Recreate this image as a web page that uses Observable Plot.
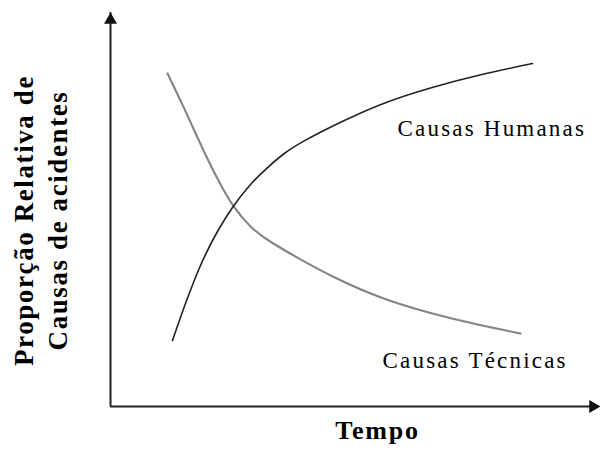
<!DOCTYPE html>
<html>
<head>
<meta charset="utf-8">
<script src="https://cdn.jsdelivr.net/npm/d3@7"></script>
<script src="https://cdn.jsdelivr.net/npm/@observablehq/plot@0.6"></script>
<style>
  html, body { margin: 0; padding: 0; background: #fff; }
  #chart { width: 600px; height: 455px; }
</style>
</head>
<body>
<div id="chart"></div>
<script>
// Series (time and relative proportion, arbitrary 0–100 units)
const tempoHumanas = [12.70, 14.96, 18.44, 21.93, 25.00, 28.69, 32.17, 35.45, 38.93, 46.52, 55.33, 65.57, 75.82, 86.48];
const propHumanas  = [16.75, 24.87, 36.29, 44.67, 50.76, 56.60, 60.66, 64.21, 67.01, 71.83, 76.90, 80.96, 84.26, 87.06];
const tempoTecnicas = [11.68, 15.16, 18.44, 21.72, 25.00, 28.69, 32.17, 38.93, 45.70, 55.33, 65.57, 75.82, 84.02];
const propTecnicas  = [84.52, 75.63, 66.50, 58.12, 50.76, 45.43, 42.13, 37.31, 32.74, 27.41, 23.60, 20.56, 18.53];

const seriesNames = ["Causas Humanas", "Causas Técnicas"];
const xLabel = "Tempo";
const yLabel = "Proporção Relativa de\nCausas de acidentes";

const humanas = tempoHumanas.map((t, i) => ({t, p: propHumanas[i]}));
const tecnicas = tempoTecnicas.map((t, i) => ({t, p: propTecnicas[i]}));

const serif = "'Liberation Serif', 'Times New Roman', serif";

const chart = Plot.plot({
  width: 600,
  height: 455,
  marginLeft: 110,
  marginRight: 2,
  marginTop: 12,
  marginBottom: 49,
  style: {fontFamily: serif, background: "#fff", overflow: "visible"},
  x: {domain: [0, 100], axis: null},
  y: {domain: [0, 100], axis: null},
  marks: [
    // axes
    Plot.ruleX([0], {stroke: "#222", strokeWidth: 2}),
    Plot.ruleY([0], {stroke: "#222", strokeWidth: 2}),
    Plot.dot([{t: 0, p: 100}], {x: "t", y: "p", symbol: "triangle", r: 4.8, fill: "#111", stroke: "none", dy: 7.5}),
    Plot.dot([{t: 100, p: 0}], {x: "t", y: "p", symbol: "triangle", r: 4.8, fill: "#111", stroke: "none", rotate: 90, dx: -5.5}),
    // curves
    Plot.line(tecnicas, {x: "t", y: "p", curve: "basis", stroke: "#858585", strokeWidth: 2.1}),
    Plot.line(humanas, {x: "t", y: "p", curve: "basis", stroke: "#222", strokeWidth: 1.6}),
    // series labels
    Plot.text([humanas[humanas.length - 1]], {x: "t", y: "p", text: () => seriesNames[0], textAnchor: "start",
      dx: -135, dy: 65.6, fontSize: 23, fill: "#000", fontFamily: serif}),
    Plot.text([tecnicas[tecnicas.length - 1]], {x: "t", y: "p", text: () => seriesNames[1], textAnchor: "start",
      dx: -138, dy: 27.6, fontSize: 23, fill: "#000", fontFamily: serif}),
    // axis titles
    Plot.text([xLabel], {frameAnchor: "bottom", text: d => d, dx: 23, dy: 32.7, fontSize: 26,
      fontWeight: "bold", fill: "#000", fontFamily: serif}),
    Plot.text([yLabel], {frameAnchor: "left", text: d => d, textAnchor: "middle", rotate: -90, dx: -71, dy: 11, fontSize: 27,
      lineHeight: 1.26, fontWeight: "bold", fill: "#000", fontFamily: serif})
  ]
});

d3.select(chart).selectAll("text").style("letter-spacing", function() {
  const size = +d3.select(this.closest("g[font-size]")).attr("font-size");
  return size >= 27 ? "1.6px" : size >= 26 ? "1.8px" : "2.2px";
});
document.getElementById("chart").appendChild(chart);
</script>
</body>
</html>
